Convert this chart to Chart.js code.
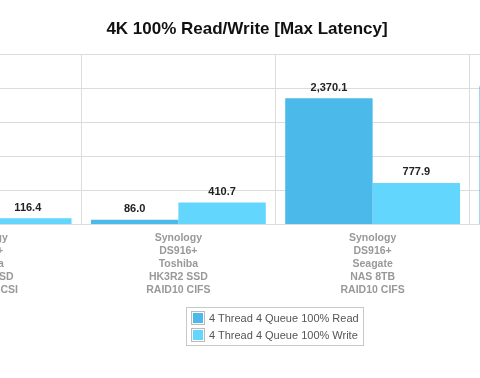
<!DOCTYPE html>
<html>
<head>
<meta charset="utf-8">
<script src="https://cdn.jsdelivr.net/npm/chart.js@4.4.0/dist/chart.umd.min.js"></script>
<style>
  html, body { margin: 0; padding: 0; background: #fff; }
  #wrap { position: relative; width: 480px; height: 378px; overflow: hidden; }
  #chart { position: absolute; left: -170px; top: 0; }
  #legend {
    position: absolute; left: 186px; top: 307px; width: 178px; height: 39px;
    box-sizing: border-box; border: 1px solid #c8c8c8; padding: 1px 0 0 4px;
    font: 11px "Liberation Sans", Arial, sans-serif; color: #555;
  }
  #legend .row { height: 17px; display: flex; align-items: center; }
  #legend .sw {
    width: 14px; height: 14px; border: 1px solid #bbb; padding: 1px;
    background-clip: content-box; margin-right: 4px; box-sizing: border-box;
  }
</style>
</head>
<body>
<div id="wrap">
  <canvas id="chart" width="834" height="378"></canvas>
  <div id="legend"></div>
</div>
<script>
// categorias (a primeira e a quarta só aparecem em parte)
const categories = [
  ['Synology', 'DS916+', 'Toshiba', 'HK3R2 SSD', 'RAID10 iSCSI'],
  ['Synology', 'DS916+', 'Toshiba', 'HK3R2 SSD', 'RAID10 CIFS'],
  ['Synology', 'DS916+', 'Seagate', 'NAS 8TB', 'RAID10 CIFS'],
  ['Synology', 'DS916+', 'Seagate', 'NAS 8TB', 'RAID10 iSCSI']
];
const seriesNames = ['4 Thread 4 Queue 100% Read', '4 Thread 4 Queue 100% Write'];
const readValues = [null, 86.0, 2370.1, 2600];
const writeValues = [116.4, 410.7, 777.9, null];
const yMax = 3200;
const yStep = 640;

const colors = ['#4cb9eb', '#63d6fe'];

// rótulos de valor por cima das barras
const valueLabels = {
  id: 'valueLabels',
  afterDatasetsDraw(chart) {
    const ctx = chart.ctx;
    ctx.save();
    ctx.font = 'bold 11px "Liberation Sans", Arial, sans-serif';
    ctx.fillStyle = '#222';
    ctx.textAlign = 'center';
    ctx.textBaseline = 'alphabetic';
    chart.data.datasets.forEach((ds, i) => {
      chart.getDatasetMeta(i).data.forEach((bar, j) => {
        const v = ds.data[j];
        if (v == null) return;
        const txt = v.toLocaleString('en-US', { minimumFractionDigits: 1, maximumFractionDigits: 1 });
        ctx.fillText(txt, bar.x, bar.y - 7.5);
      });
    });
    ctx.restore();
  }
};

const chart = new Chart(document.getElementById('chart').getContext('2d'), {
  type: 'bar',
  data: {
    labels: categories,
    datasets: [
      { label: seriesNames[0], data: readValues, backgroundColor: colors[0] },
      { label: seriesNames[1], data: writeValues, backgroundColor: colors[1] }
    ]
  },
  options: {
    responsive: false,
    animation: false,
    devicePixelRatio: 1,
    categoryPercentage: 0.9,
    barPercentage: 1.0,
    borderWidth: 0,
    layout: { padding: { left: 0, right: 0, bottom: 73.5 } },
    scales: {
      x: {
        grid: { color: '#dcdcdc', drawTicks: false },
        border: { color: '#dcdcdc' },
        ticks: {
          color: '#999',
          padding: 7.5,
          font: { family: '"Liberation Sans", Arial, sans-serif', size: 10.5, weight: 'bold', lineHeight: 1.24 },
          maxRotation: 0,
          autoSkip: false
        }
      },
      y: {
        min: 0,
        max: yMax,
        grid: { color: '#dcdcdc', drawTicks: false },
        border: { display: false },
        ticks: { display: false, stepSize: yStep },
        afterFit(scale) { scale.width = 57; }
      }
    },
    plugins: {
      legend: { display: false },
      tooltip: { enabled: false },
      title: {
        display: true,
        text: '4K 100% Read/Write [Max Latency]',
        color: '#111',
        font: { family: '"Liberation Sans", Arial, sans-serif', size: 17, weight: 'bold', lineHeight: 1.2 },
        padding: { top: 19.5, bottom: 14.1 }
      }
    }
  },
  plugins: [valueLabels]
});

// legenda em HTML, a partir dos datasets
const legend = document.getElementById('legend');
chart.data.datasets.forEach(ds => {
  const row = document.createElement('div');
  row.className = 'row';
  const sw = document.createElement('span');
  sw.className = 'sw';
  sw.style.backgroundColor = ds.backgroundColor;
  const txt = document.createElement('span');
  txt.textContent = ds.label;
  row.appendChild(sw);
  row.appendChild(txt);
  legend.appendChild(row);
});
</script>
</body>
</html>
